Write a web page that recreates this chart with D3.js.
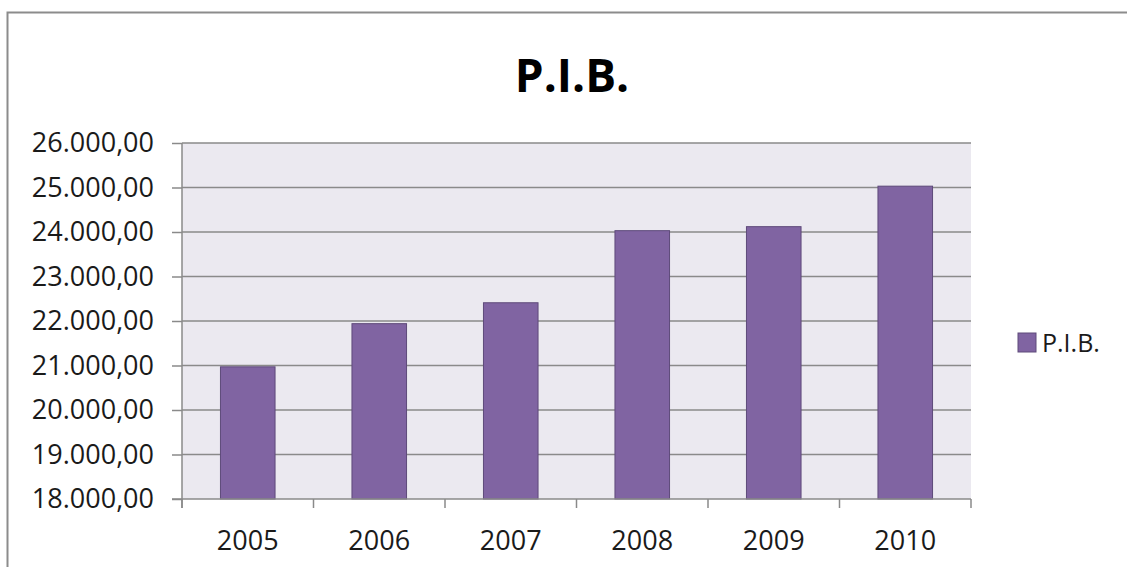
<!DOCTYPE html>
<html>
<head>
<meta charset="utf-8">
<script src="https://cdn.jsdelivr.net/npm/d3@7"></script>
<style>
  html, body { margin: 0; padding: 0; background: #ffffff; }
  svg { display: block; }
</style>
</head>
<body>
<script>
// PIB por año
const years = ["2005", "2006", "2007", "2008", "2009", "2010"];
const pib = [20970, 21940, 22410, 24030, 24120, 25030];
const yTicks = [18000, 19000, 20000, 21000, 22000, 23000, 24000, 25000, 26000];
const seriesName = "P.I.B.";

const W = 1127, H = 567;
const plot = { left: 182, top: 143, right: 971, bottom: 499 };

const svg = d3.select("body").append("svg")
  .attr("width", W).attr("height", H)
  .style("font-family", "'Open Sans', sans-serif");

// chart frame
svg.append("rect")
  .attr("x", 7.5).attr("y", 12.5)
  .attr("width", W + 20).attr("height", H + 20)
  .attr("fill", "#ffffff")
  .attr("stroke", "#8c8c8c").attr("stroke-width", 2);

const x = d3.scaleBand().domain(years).range([plot.left, plot.right]).paddingInner(0.585).paddingOuter(0.2925);
const xEdges = d3.scaleBand().domain(years).range([plot.left, plot.right]);
const y = d3.scaleLinear().domain([18000, 26000]).range([plot.bottom, plot.top]);

// plot background
svg.append("rect")
  .attr("x", plot.left).attr("y", plot.top)
  .attr("width", plot.right - plot.left).attr("height", plot.bottom - plot.top)
  .attr("fill", "#ebe9f0");

// horizontal gridlines
svg.append("g").selectAll("line").data(yTicks.filter(t => t > 18000)).join("line")
  .attr("x1", plot.left).attr("x2", plot.right)
  .attr("y1", d => y(d)).attr("y2", d => y(d))
  .attr("stroke", "#8a8a8a").attr("stroke-width", 1.5);

// bars
svg.append("g").selectAll("rect").data(years).join("rect")
  .attr("x", d => x(d))
  .attr("y", (d, i) => y(pib[i]))
  .attr("width", x.bandwidth())
  .attr("height", (d, i) => y(18000) - y(pib[i]))
  .attr("fill", "#8064a2")
  .attr("stroke", "#5e4a7a").attr("stroke-width", 1);

// y axis
const yAxis = d3.axisLeft(y).tickValues(yTicks).tickSize(10).tickPadding(18)
  .tickFormat(d => d3.format(",.2f")(d).replace(/,/g, "#").replace(".", ",").replace(/#/g, "."));
const gy = svg.append("g").attr("transform", `translate(${plot.left},0)`).call(yAxis);
gy.select(".domain").remove();
gy.append("line").attr("x1", 0).attr("x2", 0).attr("y1", plot.top).attr("y2", plot.bottom + 9)
  .attr("stroke", "#8a8a8a").attr("stroke-width", 1.5);
gy.selectAll(".tick line").attr("stroke", "#8a8a8a").attr("stroke-width", 1.5);
gy.selectAll(".tick text").attr("fill", "#1a1a1a").style("font-size", "27px")
  .style("font-family", "'Open Sans', sans-serif");

// x axis
const gx = svg.append("g").attr("transform", `translate(0,${plot.bottom})`);
gx.append("line").attr("x1", plot.left - 10).attr("x2", plot.right).attr("y1", 0).attr("y2", 0)
  .attr("stroke", "#8a8a8a").attr("stroke-width", 1.5);
gx.selectAll("line.tk").data(years.concat(["end"])).join("line").attr("class", "tk")
  .attr("x1", (d, i) => i < years.length ? xEdges(d) : plot.right)
  .attr("x2", (d, i) => i < years.length ? xEdges(d) : plot.right)
  .attr("y1", 0).attr("y2", 9)
  .attr("stroke", "#8a8a8a").attr("stroke-width", 1.5);
gx.selectAll("text").data(years).join("text")
  .attr("x", d => x(d) + x.bandwidth() / 2)
  .attr("y", 51)
  .attr("text-anchor", "middle")
  .attr("fill", "#1a1a1a").style("font-size", "27px")
  .text(d => d);

// title
svg.append("text")
  .attr("x", 572).attr("y", 92)
  .attr("text-anchor", "middle")
  .attr("fill", "#000000")
  .style("font-size", "46px").style("font-weight", "bold")
  .text(seriesName);

// legend
const lg = svg.append("g").attr("transform", "translate(1018,333)");
lg.append("rect").attr("width", 18).attr("height", 19)
  .attr("fill", "#8064a2").attr("stroke", "#5e4a7a").attr("stroke-width", 1);
lg.append("text").attr("x", 24).attr("y", 19)
  .attr("fill", "#1a1a1a").style("font-size", "25px")
  .text(seriesName);
</script>
</body>
</html>
